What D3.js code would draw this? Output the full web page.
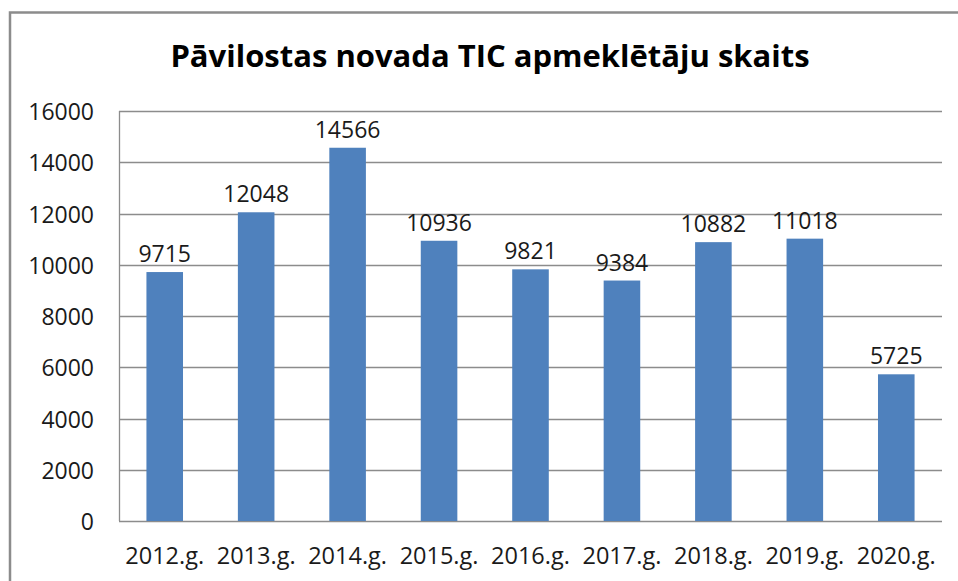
<!DOCTYPE html>
<html>
<head>
<meta charset="utf-8">
<script src="https://cdn.jsdelivr.net/npm/d3@7"></script>
<style>
    body { margin: 0; background: #fff; }
    text { font-family: "Open Sans", sans-serif; }
</style>
</head>
<body>
<svg id="chart" width="958" height="581"></svg>
<script>
const title = "Pāvilostas novada TIC apmeklētāju skaits";
const years = ["2012.g.", "2013.g.", "2014.g.", "2015.g.", "2016.g.", "2017.g.", "2018.g.", "2019.g.", "2020.g."];
const visitors = [9715, 12048, 14566, 10936, 9821, 9384, 10882, 11018, 5725];
const yTicks = [0, 2000, 4000, 6000, 8000, 10000, 12000, 14000, 16000];

let margin = { top: 111, right: 16, bottom: 60, left: 119 };
let width = 958, height = 581;

let svg = d3.select("#chart");

// outer chart frame (runs off the right and bottom of the picture)
svg.append("rect")
    .attr("x", 10)
    .attr("y", 12.5)
    .attr("width", 980)
    .attr("height", 600)
    .attr("fill", "none")
    .attr("stroke", "#8c8c8c")
    .attr("stroke-width", 2.5);

svg.append("text")
    .attr("x", 490)
    .attr("y", 67)
    .attr("text-anchor", "middle")
    .style("font-size", "31px")
    .style("font-weight", "bold")
    .attr("fill", "#000")
    .text(title);

let x = d3.scaleBand()
    .domain(years)
    .range([margin.left, width - margin.right])
    .paddingInner(0.6)
    .paddingOuter(0.3);

let y = d3.scaleLinear()
    .domain([0, 16000])
    .range([height - margin.bottom, margin.top]);

// gridlines
svg.append("g")
    .selectAll("line")
    .data(yTicks).enter()
    .append("line")
    .attr("x1", margin.left)
    .attr("x2", width - margin.right)
    .attr("y1", d => Math.round(y(d)) + 0.5)
    .attr("y2", d => Math.round(y(d)) + 0.5)
    .attr("stroke", "#8c8c8c")
    .attr("stroke-width", 1.3);

// y axis line
svg.append("line")
    .attr("x1", margin.left + 0.5)
    .attr("x2", margin.left + 0.5)
    .attr("y1", y(16000))
    .attr("y2", y(0))
    .attr("stroke", "#8c8c8c")
    .attr("stroke-width", 1.3);

// y tick labels
svg.append("g")
    .selectAll("text")
    .data(yTicks).enter()
    .append("text")
    .attr("x", 94)
    .attr("y", d => y(d) + 9)
    .attr("text-anchor", "end")
    .style("font-size", "23px")
    .attr("fill", "#1a1a1a")
    .text(d => d);

// bars
svg.append("g")
    .selectAll("rect")
    .data(visitors).enter()
    .append("rect")
    .attr("x", (d, i) => x(years[i]))
    .attr("width", x.bandwidth())
    .attr("y", d => y(d))
    .attr("height", d => y(0) - y(d))
    .attr("fill", "#4f81bd");

// data labels
svg.append("g")
    .selectAll("text")
    .data(visitors).enter()
    .append("text")
    .attr("x", (d, i) => x(years[i]) + x.bandwidth() / 2)
    .attr("y", d => y(d) - 10)
    .attr("text-anchor", "middle")
    .style("font-size", "23px")
    .attr("fill", "#1a1a1a")
    .text(d => d);

// category labels
svg.append("g")
    .selectAll("text")
    .data(years).enter()
    .append("text")
    .attr("x", d => x(d) + x.bandwidth() / 2)
    .attr("y", 564)
    .attr("text-anchor", "middle")
    .style("font-size", "23.5px")
    .attr("fill", "#1a1a1a")
    .text(d => d);
</script>
</body>
</html>
